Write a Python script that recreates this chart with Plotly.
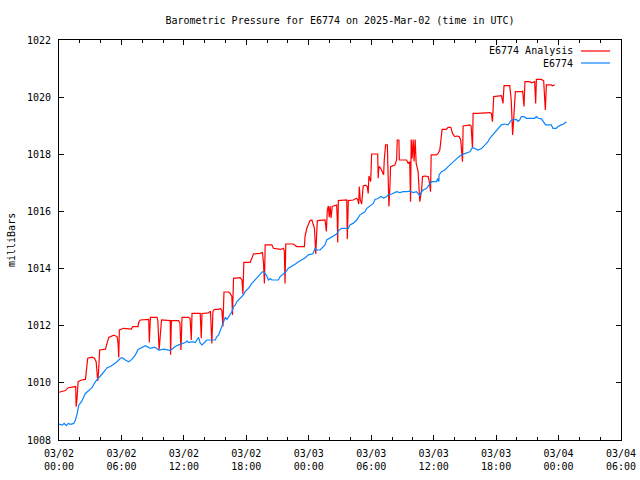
import plotly.graph_objects as go

# Time in hours since 2025-03-02 00:00 UTC, pressure in milliBars
red_hours = [0, 0.62, 0.88, 1.52, 1.60, 1.65, 1.72, 1.84, 2.16, 2.54, 2.62, 2.76, 3.18, 3.40, 3.57, 3.66, 3.72, 3.80,
             3.91, 4.46, 4.62, 4.78, 5.26, 5.58, 5.68, 5.74, 5.80, 6.22, 6.95, 7.08, 7.60, 7.65, 7.82, 8.62, 8.68, 8.78,
             9.42, 9.50, 9.62, 9.76, 9.85, 10.69, 10.72, 10.80, 11.49, 11.62, 11.72, 11.82, 12.45, 12.60, 12.71, 12.78,
             13.57, 13.67, 13.74, 14.37, 14.55, 14.69, 14.79, 14.94, 15.33, 15.50, 15.65, 15.75, 15.85, 16.29, 16.45,
             16.61, 16.67, 16.77, 17.41, 17.58, 17.67, 17.76, 18.37, 18.53, 18.68, 19.33, 19.55, 19.65, 19.74, 19.81,
             20.45, 20.60, 21.08, 21.30, 21.55, 21.65, 21.72, 21.79, 22.52, 22.68, 22.85, 23.58, 23.64, 23.81, 24.00,
             24.12, 24.30, 24.40, 24.55, 24.67, 24.74, 24.82, 25.56, 25.62, 25.69, 25.78, 25.88, 25.97, 26.05, 26.14,
             26.25, 26.36, 26.68, 26.74, 26.78, 26.84, 27.48, 27.65, 27.70, 27.80, 28.28, 28.60, 28.70, 28.80, 28.85,
             28.95, 29.08, 29.23, 29.47, 29.62, 29.71, 29.78, 29.85, 29.95, 30.04, 30.62, 30.67, 30.74, 30.90, 31.05,
             31.19, 31.25, 31.38, 31.55, 31.70, 31.80, 31.86, 32.27, 32.44, 32.50, 32.66, 32.70, 32.85, 33.40, 33.55,
             33.70, 33.78, 33.84, 33.93, 34.03, 34.12, 34.22, 34.32, 34.50, 34.67, 34.84, 34.93, 35.15, 35.47, 35.60,
             35.70, 35.76, 36.27, 36.43, 36.59, 36.69, 36.81, 37.20, 37.39, 37.65, 37.71, 37.81, 38.03, 38.25, 38.44,
             38.60, 38.77, 38.83, 39.47, 39.60, 39.73, 39.79, 40.26, 40.70, 41.07, 41.40, 41.55, 41.65, 41.77, 42.35,
             42.51, 42.66, 42.76, 43.31, 43.45, 43.59, 43.75, 43.85, 44.43, 44.55, 44.68, 44.77, 45.22, 45.40, 45.70,
             45.80, 45.87, 46.35, 46.57, 46.73, 46.83, 47.30, 47.40, 47.62]
red_mb = [1009.67, 1009.73, 1009.83, 1009.87, 1009.87, 1009.17, 1009.40, 1010.04, 1010.10, 1010.12, 1010.45, 1010.86,
          1010.90, 1010.86, 1010.74, 1010.39, 1010.07, 1010.39, 1011.15, 1011.18, 1011.35, 1011.59, 1011.67, 1011.62,
          1011.38, 1010.89, 1011.85, 1011.91, 1011.88, 1011.97, 1011.97, 1012.11, 1012.20, 1012.22, 1011.41, 1012.29,
          1012.29, 1012.15, 1011.15, 1012.03, 1012.20, 1012.18, 1010.98, 1012.18, 1012.18, 1012.10, 1011.15, 1012.29,
          1012.29, 1012.25, 1011.50, 1012.43, 1012.43, 1011.56, 1012.43, 1012.45, 1012.51, 1011.38, 1012.51, 1012.57,
          1012.57, 1012.60, 1012.53, 1011.97, 1013.18, 1013.18, 1013.13, 1013.02, 1012.38, 1013.66, 1013.68, 1013.60,
          1013.10, 1014.22, 1014.22, 1014.36, 1014.51, 1014.53, 1014.56, 1014.20, 1013.48, 1014.83, 1014.83, 1014.71,
          1014.69, 1014.67, 1014.71, 1014.62, 1013.48, 1014.86, 1014.86, 1014.83, 1014.77, 1014.77, 1015.12, 1015.41,
          1015.60, 1015.68, 1015.70, 1015.60, 1015.40, 1014.51, 1015.10, 1015.68, 1015.70, 1015.53, 1015.30, 1016.05,
          1016.19, 1015.80, 1016.19, 1015.77, 1016.17, 1016.19, 1016.22, 1015.70, 1014.91, 1016.38, 1016.40, 1016.40,
          1015.03, 1016.38, 1016.40, 1016.46, 1016.42, 1016.26, 1016.87, 1016.40, 1016.26, 1016.89, 1016.92, 1016.87,
          1016.63, 1017.24, 1017.15, 1017.05, 1018.01, 1018.01, 1017.16, 1017.57, 1017.52, 1017.40, 1017.28, 1017.78,
          1018.33, 1018.33, 1016.17, 1016.90, 1017.57, 1017.62, 1017.80, 1018.50, 1018.50, 1017.80, 1017.80, 1017.80,
          1017.68, 1017.74, 1016.34, 1018.52, 1017.85, 1018.52, 1017.75, 1018.52, 1017.68, 1017.40, 1016.34, 1016.75,
          1017.22, 1017.24, 1017.22, 1017.00, 1016.69, 1017.98, 1017.98, 1018.03, 1018.15, 1018.62, 1018.87, 1018.87,
          1018.94, 1018.94, 1018.85, 1018.73, 1018.62, 1018.64, 1018.62, 1018.50, 1017.74, 1018.99, 1019.03, 1018.99,
          1018.21, 1019.43, 1019.43, 1019.45, 1019.45, 1019.46, 1019.43, 1019.14, 1020.02, 1020.04, 1020.05, 1019.78,
          1020.40, 1020.40, 1019.90, 1018.68, 1019.50, 1020.19, 1020.19, 1020.21, 1019.67, 1020.54, 1020.54, 1020.50,
          1020.54, 1019.78, 1020.62, 1020.62, 1020.57, 1019.55, 1020.43, 1020.43, 1020.40, 1020.43]

blue_hours = [0, 0.3, 0.5, 0.7, 0.9, 1.1, 1.42, 1.58, 1.75, 1.90, 2.16, 2.38, 2.54, 2.86, 3.18, 3.50, 3.82, 4.14, 4.46,
              4.62, 4.94, 5.26, 5.58, 5.90, 6.06, 6.38, 6.69, 7.0, 7.34, 7.60, 7.98, 8.30, 8.78, 9.2, 9.57, 10.1, 10.69,
              11.17, 11.5, 11.97, 12.13, 12.30, 12.45, 12.78, 13.1, 13.25, 13.41, 13.57, 13.74, 14.05, 14.21, 15.01,
              15.17, 15.33, 15.65, 15.81, 15.97, 16.13, 16.29, 16.45, 16.61, 16.77, 16.93, 17.09, 17.41, 17.72, 17.89,
              18.20, 18.53, 18.85, 19.16, 19.55, 19.74, 19.97, 20.12, 20.30, 20.45, 21.08, 21.25, 21.72, 22.04, 22.35,
              22.68, 23.00, 23.33, 23.6, 23.96, 24.4, 24.60, 24.75, 25.08, 25.30, 25.56, 25.72, 26.20, 26.68, 26.84,
              27.16, 27.80, 27.96, 28.28, 28.60, 28.92, 29.40, 29.55, 29.88, 30.20, 30.36, 30.67, 30.93, 31.2, 31.48,
              31.63, 31.96, 32.27, 32.44, 32.75, 33.07, 33.40, 33.72, 34.03, 34.35, 34.67, 34.84, 35.0, 35.32, 35.55,
              35.80, 36.27, 36.40, 36.50, 36.52, 36.75, 37.07, 37.39, 37.71, 38.03, 38.35, 38.67, 38.99, 39.47, 39.73,
              39.95, 40.26, 40.6, 40.91, 41.22, 41.39, 41.70, 41.96, 42.2, 42.51, 42.83, 43.15, 43.47, 43.95, 44.10,
              44.26, 44.43, 44.70, 44.90, 45.22, 45.70, 45.87, 46.05, 46.35, 46.50, 46.76, 47.30, 47.46, 47.78, 47.95,
              48.26, 48.5, 48.74]
blue_mb = [1008.56, 1008.52, 1008.58, 1008.50, 1008.58, 1008.55, 1008.58, 1008.70, 1008.93, 1009.22, 1009.34, 1009.52,
           1009.63, 1009.73, 1009.84, 1010.04, 1010.16, 1010.31, 1010.45, 1010.53, 1010.57, 1010.65, 1010.74, 1010.86,
           1010.88, 1010.80, 1010.74, 1010.82, 1010.98, 1011.17, 1011.23, 1011.30, 1011.21, 1011.25, 1011.15, 1011.18,
           1011.13, 1011.27, 1011.33, 1011.38, 1011.41, 1011.47, 1011.41, 1011.44, 1011.41, 1011.50, 1011.59, 1011.39,
           1011.33, 1011.44, 1011.50, 1011.50, 1011.62, 1011.67, 1011.97, 1012.14, 1012.29, 1012.22, 1012.32, 1012.38,
           1012.49, 1012.67, 1012.72, 1012.84, 1012.96, 1013.08, 1013.19, 1013.31, 1013.48, 1013.60, 1013.72, 1013.89,
           1013.86, 1013.74, 1013.60, 1013.65, 1013.60, 1013.60, 1013.72, 1013.86, 1014.01, 1014.07, 1014.15, 1014.24,
           1014.30, 1014.36, 1014.48, 1014.52, 1014.71, 1014.65, 1014.65, 1014.73, 1014.83, 1015.00, 1015.12, 1015.21,
           1015.32, 1015.41, 1015.41, 1015.53, 1015.59, 1015.70, 1015.88, 1015.99, 1016.10, 1016.19, 1016.28, 1016.42,
           1016.45, 1016.52, 1016.47, 1016.52, 1016.58, 1016.61, 1016.66, 1016.69, 1016.66, 1016.69, 1016.69, 1016.71,
           1016.66, 1016.69, 1016.55, 1016.69, 1016.75, 1016.81, 1016.92, 1017.04, 1017.04, 1017.15, 1017.05, 1017.28,
           1017.39, 1017.45, 1017.57, 1017.68, 1017.80, 1017.89, 1017.98, 1018.03, 1018.09, 1018.24, 1018.20, 1018.15,
           1018.20, 1018.33, 1018.44, 1018.56, 1018.68, 1018.79, 1018.90, 1019.03, 1019.06, 1019.03, 1019.20, 1019.22,
           1019.15, 1019.20, 1019.32, 1019.32, 1019.26, 1019.26, 1019.26, 1019.32, 1019.26, 1019.24, 1019.15, 1019.03,
           1019.03, 1018.91, 1018.91, 1018.97, 1019.03, 1019.06, 1019.14]

x_tick_hours = [0, 6, 12, 18, 24, 30, 36, 42, 48, 54]
x_tick_labels = ["03/02<br>00:00", "03/02<br>06:00", "03/02<br>12:00", "03/02<br>18:00",
                 "03/03<br>00:00", "03/03<br>06:00", "03/03<br>12:00", "03/03<br>18:00",
                 "03/04<br>00:00", "03/04<br>06:00"]
y_ticks = [1008, 1010, 1012, 1014, 1016, 1018, 1020, 1022]
series_names = ["E6774 Analysis", "E6774"]
series_colors = ["#ff0000", "#0a84ff"]

FONT = "DejaVu Sans Mono"

fig = go.Figure()
fig.add_trace(go.Scatter(x=red_hours, y=red_mb, mode="lines", name=series_names[0],
                         line=dict(color=series_colors[0], width=1.2), showlegend=False))
fig.add_trace(go.Scatter(x=blue_hours, y=blue_mb, mode="lines", name=series_names[1],
                         line=dict(color=series_colors[1], width=1.2), showlegend=False))

L, R, T, B = 59, 19, 40, 40
W, H = 640, 480
pw = W - L - R
ph = H - T - B

def px_x(px):
    return (px - L) / pw

def px_y(py):
    return (H - B - py) / ph

annotations = []
shapes = []
for i, (name, col) in enumerate(zip(series_names, series_colors)):
    yy = px_y(51 + 12 * i)
    annotations.append(dict(x=px_x(575), y=yy, xref="paper", yref="paper", text=name,
                            showarrow=False, xanchor="right", yanchor="middle",
                            font=dict(family=FONT, size=10, color="black")))
    shapes.append(dict(type="line", xref="paper", yref="paper", x0=px_x(581), x1=px_x(610),
                       y0=yy, y1=yy, line=dict(color=col, width=1.2)))

annotations.append(dict(x=px_x(11), y=0.5, xref="paper", yref="paper", text="milliBars",
                        showarrow=False, textangle=-90, xanchor="center", yanchor="middle",
                        font=dict(family=FONT, size=10, color="black")))

fig.update_layout(
    width=W, height=H,
    margin=dict(l=L, r=R, t=T, b=B, autoexpand=False),
    paper_bgcolor="white", plot_bgcolor="white",
    font=dict(family=FONT, size=10, color="black"),
    title=dict(text="Barometric Pressure for E6774 on 2025-Mar-02 (time in UTC)",
               x=px_x(340), xref="paper", y=1 - 20 / H, yref="container",
               xanchor="center", yanchor="middle", automargin=False,
               font=dict(family=FONT, size=10, color="black")),
    annotations=annotations,
    shapes=shapes,
    xaxis=dict(range=[0, 54], tickmode="array", tickvals=x_tick_hours, ticktext=x_tick_labels,
               ticks="inside", ticklen=5, tickcolor="black", tickwidth=1,
               minor=dict(tickmode="linear", tick0=0, dtick=2, ticks="inside", ticklen=3,
                          tickcolor="black", tickwidth=1, showgrid=False),
               showline=True, linecolor="black", linewidth=1, mirror="ticks",
               showgrid=False, zeroline=False, ticklabelstandoff=4, automargin=False,
               tickfont=dict(family=FONT, size=10, color="black")),
    yaxis=dict(range=[1008, 1022], tickmode="array", tickvals=y_ticks,
               ticktext=[str(v) for v in y_ticks],
               ticks="inside", ticklen=5, tickcolor="black", tickwidth=1,
               showline=True, linecolor="black", linewidth=1, mirror="ticks",
               showgrid=False, zeroline=False, ticklabelstandoff=5, automargin=False,
               tickfont=dict(family=FONT, size=10, color="black")),
)

fig.write_html("out.html", config=dict(displayModeBar=False, staticPlot=True),
               post_script="document.body.style.margin='0px';document.body.style.overflow='hidden';")
